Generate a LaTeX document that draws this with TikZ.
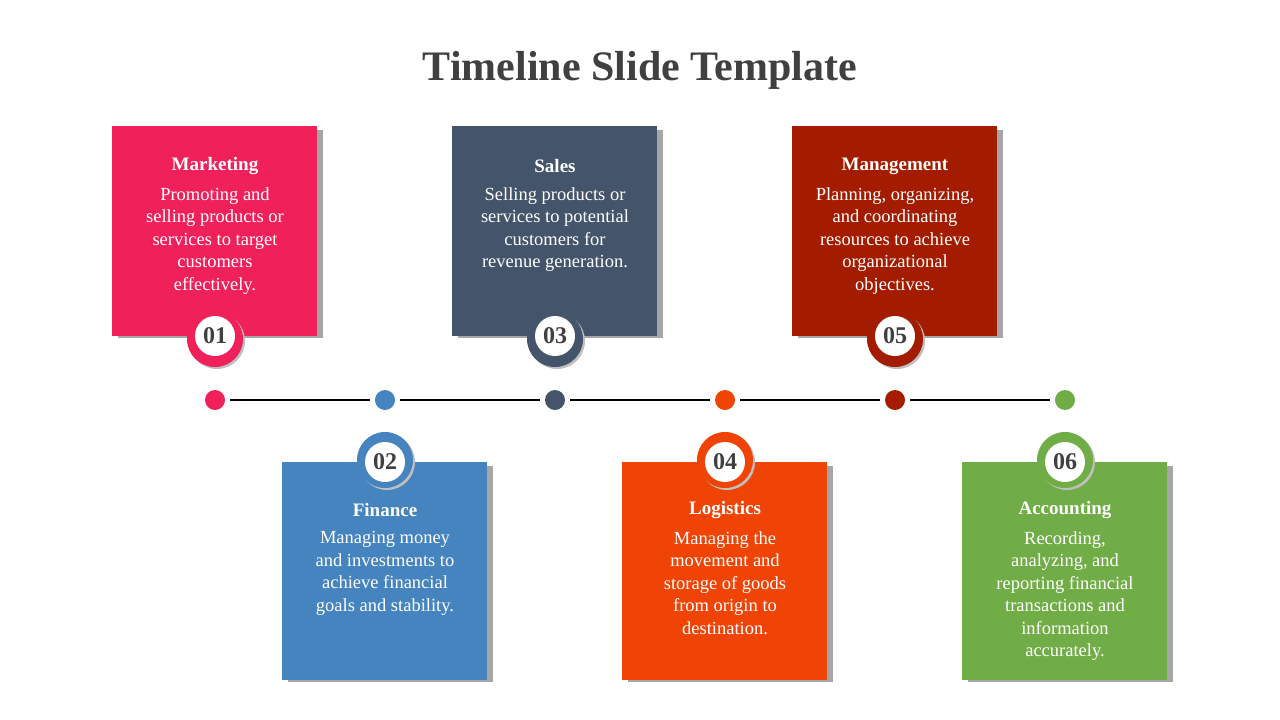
\documentclass[tikz,border=0pt]{standalone}
\usepackage{fontspec}
\setmainfont{Liberation Serif}
\begin{document}
\begin{tikzpicture}[x=1pt,y=-1pt,
 body/.style={text=white,align=center,font=\fontsize{18.5}{22.5}\selectfont,anchor=north},
 head/.style={text=white,font=\fontsize{19}{22}\selectfont\bfseries},
 num/.style={circle,fill=white,minimum size=40,inner sep=0,text=black!75,font=\fontsize{24}{26}\selectfont\bfseries},
 dotn/.style={circle,minimum size=20,inner sep=0}]
\definecolor{c1}{HTML}{F0215A}\definecolor{c2}{HTML}{4584BF}\definecolor{c3}{HTML}{44546A}
\definecolor{c4}{HTML}{F04406}\definecolor{c5}{HTML}{A31C00}\definecolor{c6}{HTML}{70AD47}
\useasboundingbox (0,0) rectangle (1280,720);
\node[text=black!75,font=\fontsize{42}{46}\selectfont\bfseries] (title) at (640,70) {Timeline Slide Template};
% dots and line
\foreach \i/\x in {1/215,2/385,3/555,4/725,5/895,6/1065}{\node[dotn,fill=c\i] (d\i) at (\x,400) {};}
\foreach \a/\b in {1/2,2/3,3/4,4/5,5/6}{\draw[line width=2.5pt,shorten <=5,shorten >=5] (d\a) -- (d\b);}
% top boxes
\foreach \i/\x/\h/\t in {1/215/Marketing/{Promoting and\\selling products or\\services to target\\customers\\effectively.},
 3/555/Sales/{Selling products or\\services to potential\\customers for\\revenue generation.},
 5/895/Management/{Planning, organizing,\\and coordinating\\resources to achieve\\organizational\\objectives.}}{
 \fill[black!35] (\x-97,130) rectangle (\x+108,338);
 \fill[c\i] (\x-103,126) rectangle (\x+102,336);
 \node[head] (h\i) at (\x,166) {\h};
 \node[body] (t\i) at (\x,184) {\t};
 \fill[black!25] (\x+2,341) circle (28);
 \fill[c\i] (\x,339) circle (28);
 \node[num] (n\i) at (\x,336) {0\i};
}
\foreach \i/\x/\h/\t in {2/385/Finance/{Managing money\\and investments to\\achieve financial\\goals and stability.},
 4/725/Logistics/{Managing the\\movement and\\storage of goods\\from origin to\\destination.},
 6/1065/Accounting/{Recording,\\analyzing, and\\reporting financial\\transactions and\\information\\accurately.}}{
 \fill[black!35] (\x-97,466) rectangle (\x+108,682);
 \fill[c\i] (\x-103,462) rectangle (\x+102,680);
 \fill[black!25] (\x+2,462) circle (28);
 \fill[c\i] (\x,460) circle (28);
 \node[num] (n\i) at (\x,462) {0\i};
 \node[head] (h\i) at (\x,510) {\h};
 \node[body] (t\i) at (\x,528) {\t};
}
\end{tikzpicture}
\end{document}
